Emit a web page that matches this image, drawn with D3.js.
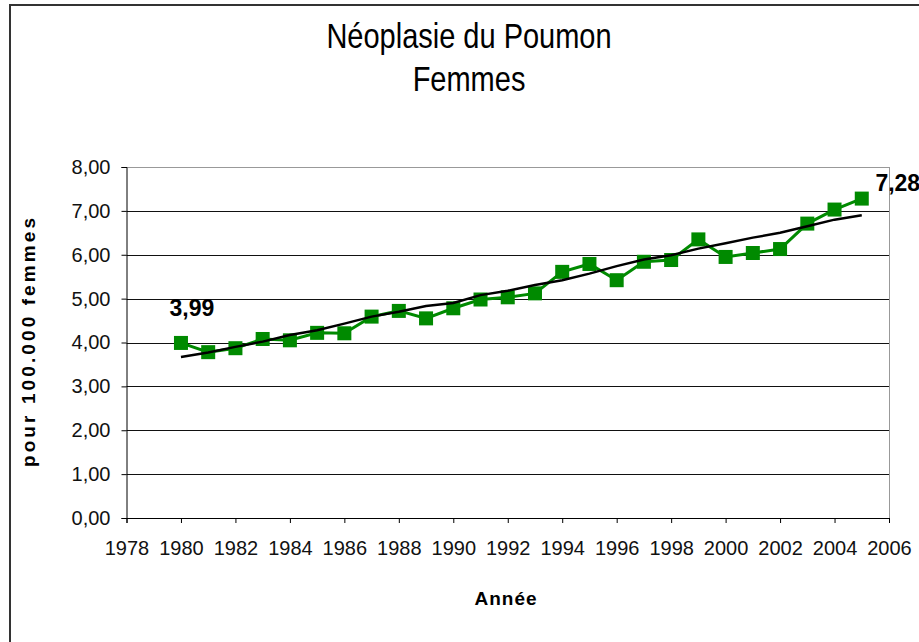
<!DOCTYPE html>
<html>
<head>
<meta charset="utf-8">
<script src="https://cdn.jsdelivr.net/npm/d3@7"></script>
<style>
  body { margin: 0; background: #fff; }
  text { font-family: "Liberation Sans", Arial, sans-serif; }
</style>
</head>
<body>
<svg id="chart" width="919" height="642"></svg>
<script>
"use strict";

const years = d3.range(1980, 2006);
const rates = [3.99, 3.78, 3.87, 4.08, 4.05, 4.22, 4.21, 4.59, 4.72, 4.55,
               4.78, 4.98, 5.03, 5.12, 5.61, 5.79, 5.42, 5.84, 5.88, 6.35,
               5.95, 6.04, 6.13, 6.71, 7.03, 7.28];
const trend = [3.67, 3.77, 3.90, 4.02, 4.17, 4.28, 4.43, 4.59, 4.70, 4.83,
               4.90, 5.08, 5.18, 5.31, 5.42, 5.57, 5.74, 5.89, 5.99, 6.14,
               6.26, 6.39, 6.50, 6.65, 6.80, 6.90];
const xTicks = d3.range(1978, 2007, 2);
const yTicks = d3.range(0, 9, 1);
const labelled = [{year: 1980, value: 3.99, text: "3,99"},
                  {year: 2005, value: 7.28, text: "7,28"}];

const plotLeft = 126.5, plotRight = 889, plotTop = 167, plotBottom = 518;

const svg = d3.select("svg#chart");

// outer frame (only top and left are visible)
svg.append("path")
    .attr("d", "M10,642V5H919")
    .attr("fill", "none")
    .attr("stroke", "#333")
    .attr("stroke-width", 2);

// title, glyphs a bit taller than wide like the original
const title = svg.append("g")
    .attr("transform", "translate(469,0) scale(1,1.2)");
title.append("text")
    .attr("y", 40)
    .attr("text-anchor", "middle")
    .style("font-size", "29px")
    .text("Néoplasie du Poumon");
title.append("text")
    .attr("y", 76)
    .attr("text-anchor", "middle")
    .style("font-size", "29px")
    .text("Femmes");

const xScale = d3.scaleLinear().domain([1978, 2006]).range([plotLeft, plotRight]);
const yScale = d3.scaleLinear().domain([0, 8]).range([plotBottom, plotTop]);

// gridlines
svg.append("g")
    .selectAll("line")
    .data(yTicks.filter(d => d > 0))
    .join("line")
    .attr("x1", plotLeft).attr("x2", plotRight)
    .attr("y1", d => Math.round(yScale(d)) + 0.5)
    .attr("y2", d => Math.round(yScale(d)) + 0.5)
    .attr("stroke", d => d === 8 ? "#999" : "#111")
    .attr("stroke-width", 1);

// right border of plot area
svg.append("line")
    .attr("x1", plotRight + 0.5).attr("x2", plotRight + 0.5)
    .attr("y1", plotTop).attr("y2", plotBottom)
    .attr("stroke", "#999");

// y axis
const yAxis = svg.append("g")
    .attr("transform", `translate(${plotLeft},0)`)
    .call(d3.axisLeft(yScale).tickValues(yTicks).tickSize(5).tickPadding(11)
        .tickFormat(d => d3.format(".2f")(d).replace(".", ",")));
yAxis.select(".domain").attr("stroke", "#000");
yAxis.selectAll(".tick line").attr("stroke", "#000");
yAxis.selectAll("text")
    .style("font-size", "20px")
    .style("font-family", "'Liberation Sans', Arial, sans-serif")
    .attr("fill", "#111");

// x axis
const xAxis = svg.append("g")
    .attr("transform", `translate(0,${plotBottom})`)
    .call(d3.axisBottom(xScale).tickValues(xTicks).tickSize(5).tickPadding(18)
        .tickFormat(d3.format("d")));
xAxis.select(".domain").attr("stroke", "#000");
xAxis.selectAll(".tick line").attr("stroke", "#000");
xAxis.selectAll("text")
    .style("font-size", "20px")
    .style("font-family", "'Liberation Sans', Arial, sans-serif")
    .attr("fill", "#111");

// axis titles
svg.append("text")
    .attr("transform", "translate(35,341) rotate(-90)")
    .attr("text-anchor", "middle")
    .style("font-size", "19px")
    .style("font-weight", "bold")
    .style("letter-spacing", "3.1px")
    .text("pour 100.000 femmes");
svg.append("text")
    .attr("x", 506).attr("y", 605)
    .attr("text-anchor", "middle")
    .style("font-size", "19px")
    .style("font-weight", "bold")
    .style("letter-spacing", "1px")
    .text("Année");

// data line
const line = d3.line()
    .x((d, i) => xScale(years[i]))
    .y(d => yScale(d));

svg.append("path")
    .datum(rates)
    .attr("d", line)
    .attr("fill", "none")
    .attr("stroke", "#008a00")
    .attr("stroke-width", 3);

svg.append("g")
    .selectAll("rect")
    .data(rates)
    .join("rect")
    .attr("x", (d, i) => xScale(years[i]) - 7)
    .attr("y", d => yScale(d) - 7)
    .attr("width", 14)
    .attr("height", 14)
    .attr("fill", "#008a00");

// trend line
svg.append("path")
    .datum(trend)
    .attr("d", line)
    .attr("fill", "none")
    .attr("stroke", "#000")
    .attr("stroke-width", 2.5);

// value labels
svg.append("g")
    .selectAll("text")
    .data(labelled)
    .join("text")
    .attr("x", d => xScale(d.year) + (d.year === 1980 ? 11 : 36))
    .attr("y", d => yScale(d.value) - (d.year === 1980 ? 27 : 8))
    .attr("text-anchor", "middle")
    .style("font-size", "23px")
    .style("font-weight", "bold")
    .text(d => d.text);
</script>
</body>
</html>
